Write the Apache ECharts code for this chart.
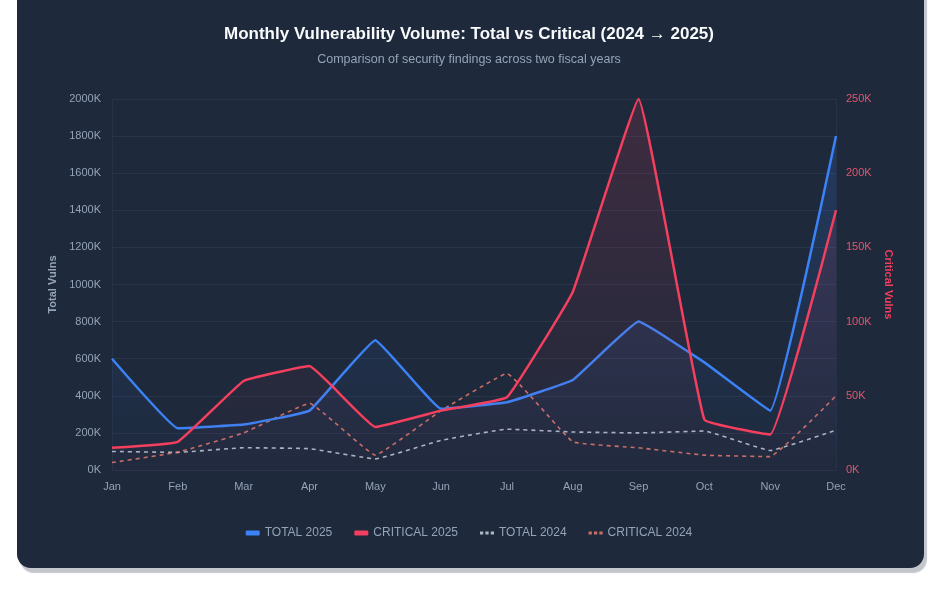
<!DOCTYPE html>
<html>
<head>
<meta charset="utf-8">
<script src="https://cdn.jsdelivr.net/npm/echarts@6/dist/echarts.min.js"></script>
<style>
  html, body { margin: 0; padding: 0; background: #ffffff; }
  #card {
    position: absolute; left: 17px; top: -30px; width: 907px; height: 598px;
    background: #1e293b; border-radius: 14px;
    box-shadow: 3px 5px 1px #c3c6cb;
  }
  #main { position: absolute; left: 0; top: 0; width: 938px; height: 606px; }
</style>
</head>
<body>
<div id="card"></div>
<div id="main"></div>
<script>
// months on the x axis
const months = ['Jan', 'Feb', 'Mar', 'Apr', 'May', 'Jun', 'Jul', 'Aug', 'Sep', 'Oct', 'Nov', 'Dec'];
// values in thousands
const total2025 = [600, 225, 245, 320, 700, 330, 365, 485, 800, 580, 320, 1800];
const critical2025 = [15, 19, 60, 70, 29, 40, 49, 120, 250, 34, 24, 175];
const total2024 = [100, 95, 120, 115, 60, 160, 220, 205, 200, 210, 105, 215];
const critical2024 = [5, 12, 25, 45, 10, 40, 65, 19, 15, 10, 9, 50];
const legendNames = ['TOTAL 2025', 'CRITICAL 2025', 'TOTAL 2024', 'CRITICAL 2024'];

const chart = echarts.init(document.getElementById('main'), null, { renderer: 'canvas' });

function areaGrad(r, g, b, a) {
  return new echarts.graphic.LinearGradient(0, 0, 0, 1, [
    { offset: 0, color: 'rgba(' + r + ',' + g + ',' + b + ',' + a + ')' },
    { offset: 1, color: 'rgba(' + r + ',' + g + ',' + b + ',0.02)' }
  ]);
}

const font = '"Liberation Sans", Arial, sans-serif';
const pillIcon = 'roundRect';
const dotsIcon = 'path://M0,0h3v3h-3z M5,0h3v3h-3z M10,0h3v3h-3z';

chart.setOption({
  backgroundColor: 'transparent',
  textStyle: { fontFamily: font },
  title: {
    text: 'Monthly Vulnerability Volume: Total vs Critical (2024 \u2192 2025)',
    subtext: 'Comparison of security findings across two fiscal years',
    left: 'center',
    top: 21,
    itemGap: 10,
    textStyle: { color: '#f8fafc', fontSize: 17, fontWeight: 'bold', fontFamily: font },
    subtextStyle: { color: '#94a3b8', fontSize: 12.5, fontFamily: font }
  },
  legend: {
    data: [
      { name: legendNames[0], icon: pillIcon },
      { name: legendNames[1], icon: pillIcon },
      { name: legendNames[2], icon: dotsIcon },
      { name: legendNames[3], icon: dotsIcon }
    ],
    bottom: 62,
    left: 'center',
    itemWidth: 14,
    itemHeight: 5,
    itemGap: 22,
    textStyle: { color: '#94a3b8', fontSize: 12, fontFamily: font }
  },
  grid: { left: 112, right: 102, top: 99, bottom: 136 },
  xAxis: {
    type: 'category',
    data: months,
    boundaryGap: false,
    axisLine: { show: false },
    axisTick: { show: false },
    axisLabel: { color: '#94a3b8', fontSize: 11, margin: 11 },
    splitLine: { show: false }
  },
  yAxis: [
    {
      type: 'value',
      min: 0, max: 2000, interval: 200,
      name: 'Total Vulns',
      nameLocation: 'middle',
      nameGap: 51,
      nameTextStyle: { color: '#94a3b8', fontSize: 11, fontWeight: 'bold' },
      axisLine: { show: true, lineStyle: { color: '#253247' } },
      axisTick: { show: false },
      axisLabel: { color: '#94a3b8', fontSize: 11, margin: 11, formatter: v => v + 'K' },
      splitLine: { lineStyle: { color: '#27344a', width: 1 } }
    },
    {
      type: 'value',
      min: 0, max: 250, interval: 50,
      name: 'Critical Vulns',
      nameLocation: 'middle',
      nameGap: 43,
      nameRotate: -90,
      nameTextStyle: { color: '#f43f5e', fontSize: 11, fontWeight: 'bold' },
      axisLine: { show: true, lineStyle: { color: '#253247' } },
      axisTick: { show: false },
      axisLabel: { color: '#e0566f', fontSize: 11, margin: 10, formatter: v => v + 'K' },
      splitLine: { show: false }
    }
  ],
  series: [
    {
      name: 'TOTAL 2025',
      type: 'line',
      yAxisIndex: 0,
      data: total2025,
      smooth: 0.08,
      symbol: 'none',
      lineStyle: { color: '#3b82f6', width: 2.5 },
      itemStyle: { color: '#3b82f6' },
      areaStyle: { color: areaGrad(59, 130, 246, 0.28) },
      z: 4
    },
    {
      name: 'CRITICAL 2025',
      type: 'line',
      yAxisIndex: 1,
      data: critical2025,
      smooth: 0.08,
      symbol: 'none',
      lineStyle: { color: '#f43f5e', width: 2.5 },
      itemStyle: { color: '#f43f5e' },
      areaStyle: { color: areaGrad(244, 63, 94, 0.22) },
      z: 5
    },
    {
      name: 'TOTAL 2024',
      type: 'line',
      yAxisIndex: 0,
      data: total2024,
      smooth: 0.08,
      symbol: 'none',
      lineStyle: { color: 'rgba(210,218,230,0.8)', width: 1.6, type: [4, 4] },
      itemStyle: { color: 'rgba(210,218,230,0.8)' },
      z: 3
    },
    {
      name: 'CRITICAL 2024',
      type: 'line',
      yAxisIndex: 1,
      data: critical2024,
      smooth: 0.08,
      symbol: 'none',
      lineStyle: { color: 'rgba(248,128,110,0.8)', width: 1.6, type: [4, 4] },
      itemStyle: { color: 'rgba(248,128,110,0.8)' },
      z: 3
    }
  ]
});
</script>
</body>
</html>
